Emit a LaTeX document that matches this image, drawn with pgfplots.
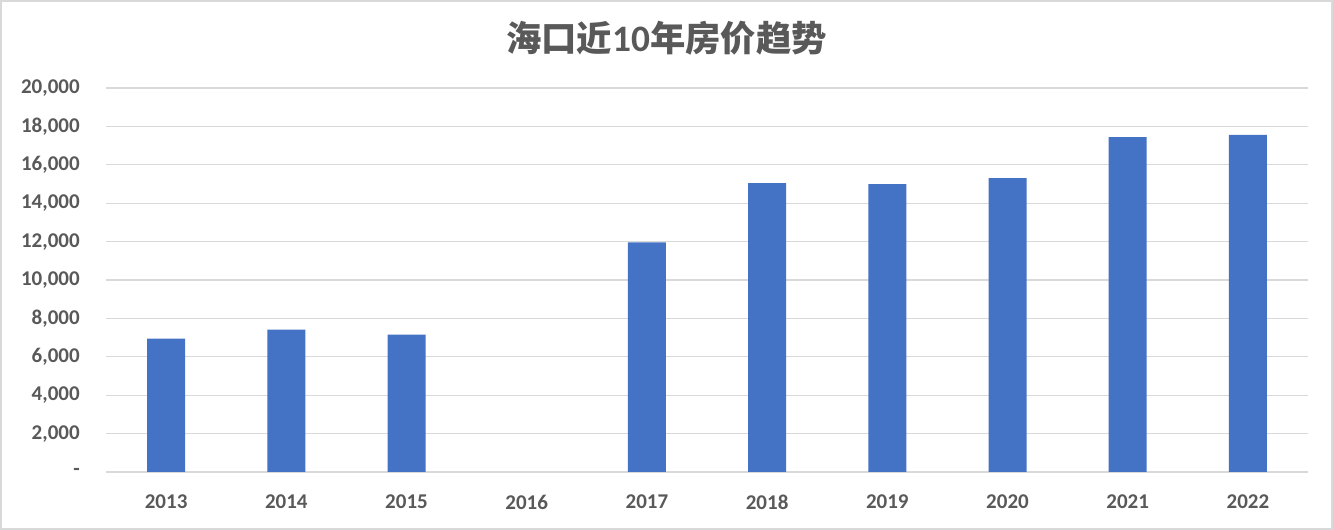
\documentclass[border=0pt]{standalone}
\usepackage{fontspec}
\setmainfont{Carlito}
\newfontfamily\cjk{Noto Sans CJK SC}
\usepackage{pgfplots}
\pgfplotsset{compat=1.18}
\definecolor{barblue}{HTML}{4472C4}
\definecolor{gridgray}{HTML}{D9D9D9}
\definecolor{txtgray}{HTML}{595959}

\begin{document}
\begin{tikzpicture}
  % 1px = 0.75pt; picture is 1333 x 530 px
  \begin{axis}[
      at={(79.5pt,43.5pt)}, anchor=south west,
      scale only axis, width=901.5pt, height=288pt,
      xmin=-0.5, xmax=9.5, ymin=0, ymax=20000,
      axis line style={draw=none},
      major tick length=0pt,
      scaled y ticks=false,
      xtick={0,...,9},
      xticklabels={2013,2014,2015,2016,2017,2018,2019,2020,2021,2022},
      ytick={0,2000,...,20000},
      yticklabels={-\hspace{8pt},{2,000},{4,000},{6,000},{8,000},{10,000},{12,000},{14,000},{16,000},{18,000},{20,000}},
      ymajorgrids, grid style={gridgray, line width=1pt},
      ticklabel style={font=\fontsize{15.75}{18}\selectfont\bfseries, text=txtgray, inner sep=0pt},
      xticklabel style={anchor=north, yshift=-17pt},
      yticklabel style={anchor=east, xshift=-19.5pt},
    ]
    % 2016 has no value
    \addplot[ybar, bar width=28.5pt, fill=barblue, draw=none] coordinates {
      (0,6950) (1,7420) (2,7160) (4,11960)
      (5,15040) (6,14990) (7,15300) (8,17440) (9,17560)
    };
  \end{axis}
  \node[text=txtgray, font=\fontsize{26.5}{30}\selectfont\bfseries, inner sep=0pt]
    at (499.9pt,369pt) {{\cjk 海口近}\fontsize{28}{30}\selectfont 10{\cjk\fontsize{26.5}{30}\selectfont 年房价趋势}};
  \draw[gridgray, line width=1.5pt] (0.75pt,0.75pt) rectangle (999pt,396.75pt);
  \pgfresetboundingbox
  \useasboundingbox (0pt,0pt) rectangle (999.75pt,397.5pt);
\end{tikzpicture}
\end{document}
